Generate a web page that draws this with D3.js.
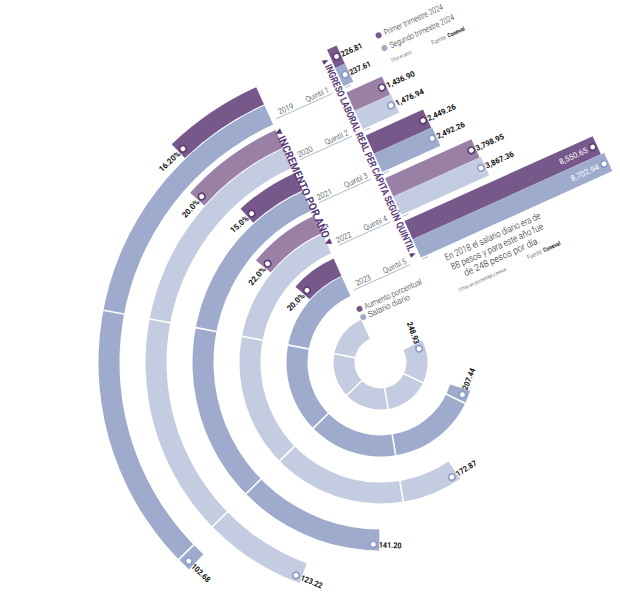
<!DOCTYPE html>
<html><head><meta charset="utf-8">
<script src="https://cdn.jsdelivr.net/npm/d3@7"></script>
<style>body{margin:0;background:#fff} svg{display:block}</style>
</head><body>
<svg id="c" width="620" height="604"></svg>
<script>
// ---- data ----
const years = ["2019","2020","2021","2022","2023","2024"];
const salario = [102.68,123.22,141.20,172.87,207.44,248.93];
const aumento = [16.20,20.0,15.0,22.0,20.0];
const aumentoLabels = ["16.20%","20.0%","15.0%","22.0%","20.0%"];
const quintiles = ["Quintil 1","Quintil 2","Quintil 3","Quintil 4","Quintil 5"];
const primerTrim = [226.81,1436.90,2449.26,3798.95,8550.65];
const segundoTrim = [237.61,1476.94,2492.26,3867.36,8702.94];
const salarioTicks = [50,100,150,200];
const nota = ["En 2018 el salario diario era de","88 pesos y para este año fue","de 248 pesos por día."];

// ---- style ----
const C = {
  dPur:"#77588b", lPur:"#9b80a6", dBlue:"#9eabcc", lBlue:"#c4cce1",
  mPur:"#5c3b73", mBlue:"#8a9ac3", title:"#5a3977", line:"#9fb0c6", text:"#222"
};
const FONT = "Roboto, 'Open Sans', sans-serif";
const ROT = -24.3;

const svg = d3.select("#c");
const g = svg.append("g").attr("transform", `translate(380.5,362.5) rotate(${ROT})`);

const bScale = d3.scaleLinear().domain([0,5]).range([263,28]);
const angS = d3.scaleLinear().domain([0,300]).range([0, 330*Math.PI/180]);
const angP = d3.scaleLinear().domain([0,100]).range([0, 120*Math.PI/180]);
const xS = d3.scaleLinear().domain([0,9000]).range([80.6, 80.6+212]);
const fmt = d3.format(",.2f");

function fitText(sel, len){ return sel.attr("textLength", len).attr("lengthAdjust","spacingAndGlyphs"); }
const pt = (r,a) => [r*Math.sin(a), -r*Math.cos(a)];

function ringLabel(a, r, txt, len){
  const deg = a*180/Math.PI;
  const s = (((deg+ROT)+180)%360+360)%360-180;
  const [x,y] = pt(r,a);
  let rot, anchor, dx;
  if (s >= -90 && s <= 90){ rot = deg; anchor = "end"; dx = -5.5; }
  else { rot = deg+180; anchor = "start"; dx = 5.5; }
  const t = g.append("text").attr("transform",`translate(${x},${y}) rotate(${rot})`)
    .attr("text-anchor",anchor).attr("dx",dx).attr("dy","0.36em")
    .attr("font-family",FONT).attr("font-weight",700).attr("font-size",8).attr("fill","#111").text(txt);
  fitText(t, len);
}

// ---- rings ----
years.forEach((yr,i)=>{
  const b = bScale(i);
  const blueFill = i%2===0 ? C.dBlue : C.lBlue;
  const a = angS(salario[i]);
  g.append("path").attr("fill", blueFill)
    .attr("d", d3.arc()({innerRadius:b-2, outerRadius:b+19, startAngle:-a, endAngle:0}));
  salarioTicks.filter(t=>t<salario[i]).forEach(t=>{
    const [x1,y1] = pt(b-3,-angS(t)), [x2,y2] = pt(b+20,-angS(t));
    g.append("line").attr("x1",x1).attr("y1",y1).attr("x2",x2).attr("y2",y2)
      .attr("stroke","#fff").attr("stroke-width",1.6);
  });
  if (i < aumento.length){
    const ap = angP(aumento[i]);
    g.append("path").attr("fill", i%2===0 ? C.dPur : C.lPur)
      .attr("d", d3.arc()({innerRadius:b+20, outerRadius:b+39, startAngle:-ap, endAngle:0}));
    const rm = b+28, am = -ap + 5/rm;
    const [mx,my] = pt(rm, am);
    g.append("circle").attr("cx",mx).attr("cy",my).attr("r",3.2)
      .attr("fill","#fff").attr("stroke",C.mPur).attr("stroke-width",1.6);
    ringLabel(am, rm, aumentoLabels[i], aumentoLabels[i].length*4.3);
  }
  const rb = b+13, ab = -a + 6/rb;
  const [bx,by] = pt(rb, ab);
  g.append("circle").attr("cx",bx).attr("cy",by).attr("r",3.2)
    .attr("fill","#fff").attr("stroke",C.mBlue).attr("stroke-width",1.6);
  ringLabel(ab, rb, fmt(salario[i]), fmt(salario[i]).length*3.8);
});

// ---- row lines, years, quintiles ----
quintiles.forEach((q,i)=>{
  const b = bScale(i);
  const yl = -(b+2);
  const u0 = (i===0 || i===4) ? 5 : 10;
  [[u0,67],[81,87]].forEach(([u1,u2])=>{
    g.append("line").attr("x1",u1).attr("x2",u2).attr("y1",yl).attr("y2",yl)
      .attr("stroke",C.line).attr("stroke-width",0.8);
  });
  fitText(g.append("text").attr("x",10).attr("y",yl-2.5).attr("font-family",FONT).attr("font-weight",300)
    .attr("font-size",8).attr("fill",C.text).text(years[i]), 16);
  fitText(g.append("text").attr("x",40).attr("y",yl-2.5).attr("font-family",FONT).attr("font-weight",300)
    .attr("font-size",8).attr("fill",C.text).text(q), 25);
});

// ---- bars ----
quintiles.forEach((q,i)=>{
  const b = bScale(i);
  const rows = [
    {v:primerTrim[i], y:-(b+44), fill: i%2===0?C.dPur:C.lPur, m:C.mPur},
    {v:segundoTrim[i], y:-(b+24), fill: i%2===0?C.dBlue:C.lBlue, m:C.mBlue}
  ];
  rows.forEach(r=>{
    g.append("rect").attr("x",80).attr("y",r.y).attr("height",20)
      .attr("width", xS(r.v)+4.5-80).attr("fill",r.fill);
  });
  rows.forEach(r=>{
    g.append("circle").attr("cx",xS(r.v)).attr("cy",r.y+10).attr("r",3.2)
      .attr("fill","#fff").attr("stroke",r.m).attr("stroke-width",1.6);
    const inside = i===4;
    const t = g.append("text").attr("x", inside? xS(r.v)-6 : xS(r.v)+5).attr("y", r.y+10).attr("dy","0.36em")
      .attr("text-anchor", inside?"end":"start").attr("font-family",FONT).attr("font-weight", inside?400:700)
      .attr("font-size",8).attr("fill", inside?"#fff":"#111").text(fmt(r.v));
    fitText(t, fmt(r.v).length*3.8);
  });
});

// ---- titles ----
fitText(g.append("text").attr("transform","translate(71,-301) rotate(90)")
  .attr("font-family",FONT).attr("font-weight",700).attr("font-size",10).attr("fill",C.title)
  .text("▲INGRESO LABORAL REAL PER CÁPITA SEGÚN QUINTIL▲"), 220);
fitText(g.append("text").attr("transform","translate(-1.5,-257) rotate(90)")
  .attr("font-family",FONT).attr("font-weight",700).attr("font-size",11).attr("fill",C.title)
  .text("▼INCREMENTO POR AÑO▼"), 131);

// ---- top legend ----
[["Primer trimestre 2024",C.dPur,-299,64],["Segundo trimestre 2024",C.dBlue,-285,70]].forEach(([t,c,v,L])=>{
  g.append("circle").attr("cx",133).attr("cy",v).attr("r",3).attr("fill",c);
  fitText(g.append("text").attr("x",139).attr("y",v).attr("dy","0.36em").attr("font-family",FONT)
    .attr("font-weight",300).attr("font-size",8.5).attr("fill",C.text).text(t), L);
});
fitText(g.append("text").attr("x",134).attr("y",-269).attr("font-family",FONT).attr("font-weight",300)
  .attr("font-size",5).attr("fill",C.text).text("Cifras en pesos"), 22);
const f1 = g.append("text").attr("x",178).attr("y",-268).attr("font-family",FONT).attr("font-size",6).attr("fill",C.text);
f1.append("tspan").attr("font-weight",300).text("Fuente: ");
f1.append("tspan").attr("font-weight",700).text("Coneval");
fitText(f1, 36);

// ---- bottom legend ----
[["Aumento porcentual",C.dPur,-57.5,62],["Salario diario",C.dBlue,-48.5,45]].forEach(([t,c,v,L])=>{
  g.append("circle").attr("cx",3).attr("cy",v).attr("r",3).attr("fill",c);
  fitText(g.append("text").attr("x",8.5).attr("y",v).attr("dy","0.36em").attr("font-family",FONT)
    .attr("font-weight",300).attr("font-size",8.5).attr("fill",C.text).text(t), L);
});

// ---- note ----
const noteLen = [104,100,82];
nota.forEach((t,k)=>{
  fitText(g.append("text").attr("x",154).attr("y",-65.5+k*11).attr("text-anchor","middle").attr("font-family",FONT)
    .attr("font-weight",300).attr("font-size",9.5).attr("fill",C.text).text(t), noteLen[k]);
});
fitText(g.append("text").attr("x",101).attr("y",-32).attr("font-family",FONT).attr("font-weight",300)
  .attr("font-size",5).attr("fill",C.text).text("Cifras en porcentaje y pesos"), 52);
const f2 = g.append("text").attr("x",177).attr("y",-33).attr("font-family",FONT).attr("font-size",6).attr("fill",C.text);
f2.append("tspan").attr("font-weight",300).text("Fuente: ");
f2.append("tspan").attr("font-weight",700).text("Coneval");
fitText(f2, 36);
</script>
</body></html>
